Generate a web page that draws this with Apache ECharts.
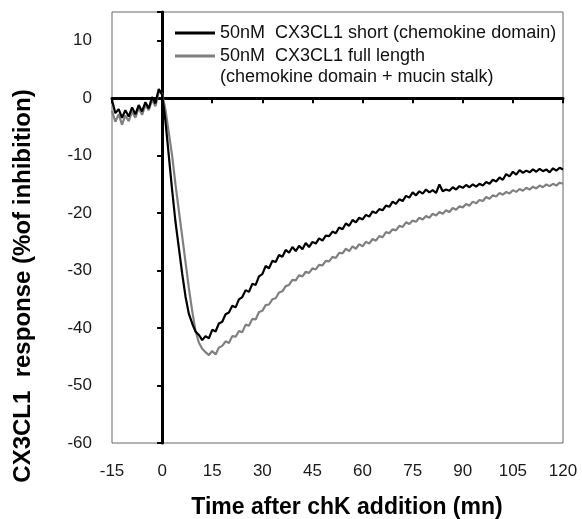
<!DOCTYPE html>
<html>
<head>
<meta charset="utf-8">
<script src="https://cdn.jsdelivr.net/npm/echarts@6/dist/echarts.min.js"></script>
<style>
html,body{margin:0;padding:0;background:#fff;}
#chart{width:582px;height:519px;}
</style>
</head>
<body>
<div id="chart"></div>
<script>
// Time (min) after chemokine addition
var times = [-15,-14,-13,-12,-11,-10,-9,-8,-7,-6,-5,-4,-3,-2,-1,0,
  1,2,3,4,5,6,7,8,9,10,11,12,13,14,15,16,17,18,19,20,
  21,22,23,24,25,26,27,28,29,30,31,32,33,34,35,36,37,38,39,40,
  41,42,43,44,45,46,47,48,49,50,51,52,53,54,55,56,57,58,59,60,
  61,62,63,64,65,66,67,68,69,70,71,72,73,74,75,76,77,78,79,80,
  81,82,83,84,85,86,87,88,89,90,91,92,93,94,95,96,97,98,99,100,
  101,102,103,104,105,106,107,108,109,110,111,112,113,114,115,116,117,118,119,120];

var seriesNames = ['50nM  CX3CL1 short (chemokine domain)', '50nM  CX3CL1 full length'];
var legendExtraLine = '(chemokine domain + mucin stalk)';

// 50nM CX3CL1 short (chemokine domain)
var shortValues = [-0.3,-2.6,-1.9,-3.4,-2.1,-3.2,-1.6,-2.8,-1.2,-2.3,-0.7,-1.8,0.2,-0.9,1.6,0.6,
  -4,-10,-16,-21.5,-26,-30.5,-34.5,-37.5,-39.2,-40.6,-41.2,-42.1,-41.4,-41.8,-40.3,-40.6,-39.2,-38.9,-37.6,-37.3,
  -36.1,-36.4,-35.0,-34.6,-33.4,-33.7,-32.3,-32.5,-31.0,-30.6,-29.2,-29.6,-28.3,-28.5,-27.3,-27.6,-26.4,-26.9,-25.9,-26.6,
  -25.7,-26.3,-25.2,-25.9,-25.0,-25.3,-24.4,-24.8,-23.9,-24.0,-23.2,-23.5,-22.5,-22.8,-21.8,-22.2,-21.2,-21.6,-20.8,-21.1,
  -20.3,-20.6,-19.7,-20.0,-19.3,-19.5,-18.7,-18.9,-18.0,-18.4,-17.6,-17.9,-17.0,-17.3,-16.4,-16.9,-16.2,-16.6,-15.9,-16.4,
  -16.0,-16.5,-15.0,-16.2,-15.9,-16.1,-15.5,-15.9,-15.3,-15.6,-15.1,-15.5,-15.0,-15.4,-14.9,-15.2,-14.6,-14.9,-14.2,-14.5,
  -13.8,-14.2,-13.2,-13.6,-12.8,-13.3,-12.5,-13.0,-12.6,-12.9,-12.4,-12.8,-12.3,-12.7,-12.4,-12.9,-12.2,-12.6,-12.1,-12.4];

// 50nM CX3CL1 full length (chemokine domain + mucin stalk)
var fullValues = [-2.2,-4.1,-2.8,-4.6,-3.0,-4.0,-2.3,-3.4,-1.7,-2.9,-1.2,-2.1,-0.3,-1.4,1.2,0.8,
  -2,-6,-10,-15,-19.5,-24,-28.5,-33,-37,-40.5,-42.5,-43.6,-44.2,-44.7,-44.0,-44.6,-43.4,-43.1,-42.3,-42.6,
  -41.4,-41.5,-40.5,-40.7,-39.4,-39.6,-38.4,-38.5,-37.2,-37.0,-36.0,-35.9,-35.0,-34.8,-33.8,-33.6,-32.7,-32.5,-31.6,-31.7,
  -30.8,-31.0,-30.2,-30.4,-29.6,-29.8,-29.0,-29.1,-28.3,-28.4,-27.6,-27.8,-26.9,-27.0,-26.2,-26.6,-25.8,-26.2,-25.4,-25.8,
  -25.0,-25.3,-24.5,-24.8,-24.0,-24.2,-23.3,-23.5,-22.8,-23.0,-22.2,-22.4,-21.6,-21.9,-21.3,-21.5,-20.8,-21.1,-20.5,-20.8,
  -20.1,-20.4,-19.8,-20.1,-19.5,-19.8,-19.1,-19.4,-18.8,-19.0,-18.4,-18.7,-18.0,-18.3,-17.7,-17.9,-17.2,-17.5,-16.9,-17.1,
  -16.5,-16.8,-16.3,-16.6,-16.0,-16.3,-15.8,-16.1,-15.6,-15.9,-15.4,-15.7,-15.2,-15.5,-15.0,-15.3,-14.9,-15.2,-14.7,-14.9];

var xTitle = 'Time after chK addition (mn)';
var yTitle = 'CX3CL1  response (%of inhibition)';

function pairs(xs, ys){ var out=[]; for(var i=0;i<xs.length;i++){ out.push([xs[i], ys[i]]); } return out; }

var FONT = '"Liberation Sans", Arial, sans-serif';
var chart = echarts.init(document.getElementById('chart'), null, {renderer:'canvas'});
chart.setOption({
  animation: false,
  backgroundColor: '#fff',
  grid: {left:112, top:12, right:19, bottom:76, show:true, borderColor:'#666', borderWidth:1},
  legend: {
    orient:'vertical', left:170, top:19, itemWidth:40, itemHeight:3, itemGap:5, icon:'rect',
    data: seriesNames,
    textStyle:{fontFamily:FONT, fontSize:18, color:'#111'},
    selectedMode:false
  },
  graphic: [{
    type:'text', left:220, top:68,
    style:{text: legendExtraLine, font:'18px ' + FONT, fill:'#111'}
  },{
    type:'text', x:347, y:508,
    style:{text: xTitle, font:'bold 23px ' + FONT, fill:'#000', align:'center', verticalAlign:'middle'}
  },{
    type:'text', x:23, y:286, rotation:Math.PI/2,
    style:{text: yTitle, font:'bold 24px ' + FONT, fill:'#000', align:'center', verticalAlign:'middle'}
  }],
  xAxis: [{
    type:'value', min:-15, max:120, interval:15, position:'bottom',
    axisLine:{show:true, onZero:true, onZeroAxisIndex:0, lineStyle:{color:'#000', width:3}},
    axisTick:{show:true, length:5, lineStyle:{color:'#000', width:2}},
    axisLabel:{show:false}, splitLine:{show:false}
  },{
    type:'value', min:-15, max:120, interval:15, position:'bottom',
    axisLine:{show:false, onZero:false}, axisTick:{show:false}, splitLine:{show:false},
    axisLabel:{margin:20, fontSize:17, color:'#1a1a1a', fontFamily:FONT}
  }],
  yAxis: [{
    type:'value', min:-60, max:15, interval:10, position:'left',
    axisLine:{show:true, onZero:true, onZeroAxisIndex:0, lineStyle:{color:'#000', width:3}},
    axisTick:{show:true, length:5, lineStyle:{color:'#000', width:2}},
    axisLabel:{show:false}, splitLine:{show:false}
  },{
    type:'value', min:-60, max:15, interval:10, position:'left',
    axisLine:{show:false, onZero:false}, axisTick:{show:false}, splitLine:{show:false},
    axisLabel:{margin:20, fontSize:17, color:'#1a1a1a', fontFamily:FONT, showMaxLabel:false}
  }],
  series: [{
    name: seriesNames[0], type:'line', xAxisIndex:0, yAxisIndex:0,
    data: pairs(times, shortValues), showSymbol:false, symbol:'none',
    lineStyle:{color:'#000', width:2.2}, itemStyle:{color:'#000'}, z:3
  },{
    name: seriesNames[1], type:'line', xAxisIndex:0, yAxisIndex:0,
    data: pairs(times, fullValues), showSymbol:false, symbol:'none',
    lineStyle:{color:'#808080', width:2.2}, itemStyle:{color:'#808080'}, z:2
  }]
});
</script>
</body>
</html>
